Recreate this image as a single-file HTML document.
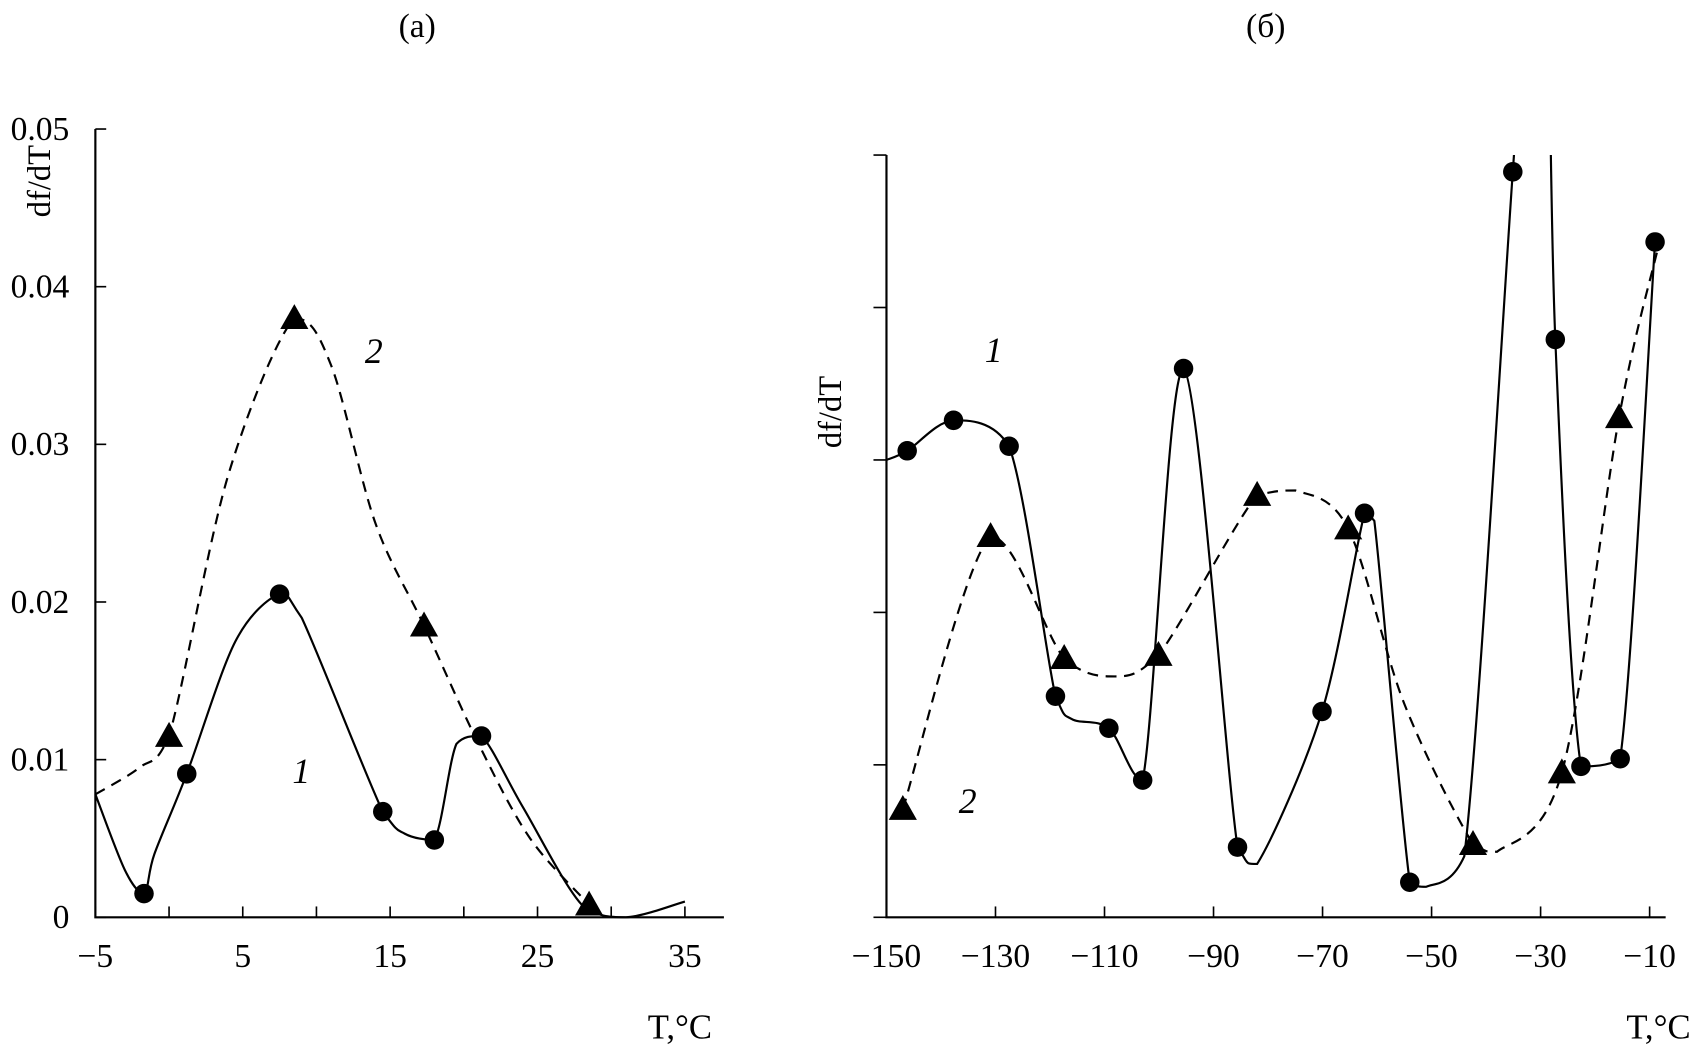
<!DOCTYPE html>
<html><head><meta charset="utf-8"><style>
html,body{margin:0;padding:0;background:#fff;}
svg{display:block;font-family:"Liberation Serif",serif;}
</style></head><body>
<svg id="chart" width="1696" height="1055" viewBox="0 0 1565 973" preserveAspectRatio="none" xmlns="http://www.w3.org/2000/svg">
<defs><clipPath id="clipB"><rect x="815" y="143" width="730" height="710"/></clipPath></defs>
<text x="385" y="34" font-size="31" text-anchor="middle">(a)</text>
<text x="1168" y="34" font-size="31" text-anchor="middle">(б)</text>
<g id="pa"></g>
<g id="pb"></g>
</svg>
<script>
// Panel (a) data
const aTicksX = [-5, 5, 15, 25, 35];
const aTicksY = [0, 0.01, 0.02, 0.03, 0.04, 0.05];
const aCurve1 = [[-5,.0078],[-3,.003],[-1.7,.0015],[-1,.004],[1.2,.0091],[4.5,.0175],[7.5,.0205],[9,.019],[14.5,.0067],[16,.0053],[18,.0049],[19.5,.011],[21.2,.0115],[24,.007],[28,.0008],[31,0],[35,.001]];
const aMarks1 = [[-1.7,.0015],[1.2,.0091],[7.5,.0205],[14.5,.0067],[18,.0049],[21.2,.0115]];
const aCurve2 = [[-5,.0078],[-2,.0095],[0,.0115],[4,.028],[8.5,.038],[11,.035],[14,.025],[17.3,.0185],[21,.011],[24.5,.005],[28.5,.0008]];
const aMarks2 = [[0,.0115],[8.5,.038],[17.3,.0185],[28.5,.0008]];
// Panel (б) data
const bTicksX = [-150,-130,-110,-90,-70,-50,-30,-10];
const bTicksY = [0,1,2,3,4,5];
const bCurve1 = [[-150,3.0],[-146.2,3.06],[-137.7,3.26],[-127.5,3.09],[-119,1.45],[-116,1.3],[-109.2,1.24],[-103,0.9],[-95.5,3.6],[-85.6,0.46],[-82,0.35],[-70.1,1.35],[-62.3,2.65],[-60.5,2.6],[-54,0.23],[-51,0.2],[-44,0.4],[-35.1,4.89],[-32,6.5],[-29,6.5],[-27.3,3.79],[-22.6,0.99],[-15.4,1.04],[-9.0,4.43]];
const bMarks1 = [[-146.2,3.06],[-137.7,3.26],[-127.5,3.09],[-119,1.45],[-109.2,1.24],[-103,0.9],[-95.5,3.6],[-85.6,0.46],[-70.1,1.35],[-62.3,2.65],[-54,0.23],[-35.1,4.89],[-27.3,3.79],[-22.6,0.99],[-15.4,1.04],[-9.0,4.43]];
const bCurve2 = [[-147,0.71],[-130.9,2.5],[-117.4,1.7],[-108,1.58],[-100.1,1.72],[-82,2.77],[-75,2.8],[-65.3,2.55],[-55,1.4],[-42.4,0.48],[-38,0.43],[-26.1,0.95],[-15.6,3.28],[-8.4,4.4]];
const bMarks2 = [[-147,0.71],[-130.9,2.5],[-117.4,1.7],[-100.1,1.72],[-82,2.77],[-65.3,2.55],[-42.4,0.48],[-26.1,0.95],[-15.6,3.28]];

const NS = "http://www.w3.org/2000/svg";
function mk(parent, tag, attrs){const e=document.createElementNS(NS,tag);for(const k in attrs)e.setAttribute(k,attrs[k]);parent.appendChild(e);return e;}
function clampY(y,a,b){const lo=Math.min(a,b),hi=Math.max(a,b);return Math.max(lo,Math.min(hi,y));}
function smooth(pts){
  let d="M"+pts[0][0]+","+pts[0][1];
  for(let i=0;i<pts.length-1;i++){
    const p0=pts[Math.max(0,i-1)],p1=pts[i],p2=pts[i+1],p3=pts[Math.min(pts.length-1,i+2)];
    const t=0.16;
    const c1=[p1[0]+(p2[0]-p0[0])*t,clampY(p1[1]+(p2[1]-p0[1])*t,p1[1],p2[1])];
    const c2=[p2[0]-(p3[0]-p1[0])*t,clampY(p2[1]-(p3[1]-p1[1])*t,p1[1],p2[1])];
    d+=" C"+c1[0]+","+c1[1]+" "+c2[0]+","+c2[1]+" "+p2[0]+","+p2[1];
  }
  return d;
}
function circ(g,x,y){const c=mk(g,"circle",{cx:x,cy:y,r:9,fill:"#000"});

}
function tri(g,x,y){const p=mk(g,"polygon",{points:(x-13)+","+(y+10)+" "+(x+13)+","+(y+10)+" "+x+","+(y-13),fill:"#000"});

}

// Panel a
(function(){
  const g=document.getElementById("pa");
  const X=v=>88+(v+5)*13.6, Y=v=>846-v*14540;
  const ax=mk(g,"path",{d:"M88,119 L88,846 L668,846",fill:"none",stroke:"#000","stroke-width":2});
  
  
  for(let v=-5;v<=35;v+=5){mk(g,"line",{x1:X(v),x2:X(v),y1:846,y2:836,stroke:"#000","stroke-width":1.5});}
  aTicksX.forEach(v=>{const t=mk(g,"text",{x:X(v),y:892,"font-size":31,"text-anchor":"middle"});t.textContent=(v<0?"\u2212"+(-v):v);
    
    });
  aTicksY.forEach(v=>{mk(g,"line",{x1:88,x2:98,y1:Y(v),y2:Y(v),stroke:"#000","stroke-width":1.5});
    const t=mk(g,"text",{x:64,y:Y(v)+10,"font-size":31,"text-anchor":"end"});t.textContent=v===0?"0":v.toFixed(2);
    
    });
  const yl=mk(g,"text",{x:0,y:0,"font-size":30,"text-anchor":"middle",transform:"translate(46,167) rotate(-90)"});yl.textContent="df/dT";
  
  
  const xl=mk(g,"text",{x:657,y:958,"font-size":32,"text-anchor":"end"});xl.textContent="T,\u00B0C";
  
  
  const l2=mk(g,"path",{d:smooth(aCurve2.map(p=>[X(p[0]),Y(p[1])])),fill:"none",stroke:"#000","stroke-width":2,"stroke-dasharray":"10,7"});
  
  
  const l1=mk(g,"path",{d:smooth(aCurve1.map(p=>[X(p[0]),Y(p[1])])),fill:"none",stroke:"#000","stroke-width":2});
  
  
  aMarks1.forEach(p=>circ(g,X(p[0]),Y(p[1])));
  aMarks2.forEach(p=>tri(g,X(p[0]),Y(p[1])));
  const t2=mk(g,"text",{x:345,y:335,"font-size":33,"font-style":"italic","text-anchor":"middle"});t2.textContent="2";
  
  
  const t1=mk(g,"text",{x:278,y:722,"font-size":33,"font-style":"italic","text-anchor":"middle"});t1.textContent="1";
  
  
})();

// Panel b
(function(){
  const g=document.getElementById("pb");
  const X=v=>818+(v+150)*5.03, Y=v=>846-v*140.6;
  const ax=mk(g,"path",{d:"M818,143 L818,846 L1537,846",fill:"none",stroke:"#000","stroke-width":2});
  
  
  bTicksX.forEach(v=>{mk(g,"line",{x1:X(v),x2:X(v),y1:846,y2:836,stroke:"#000","stroke-width":1.5});
    const t=mk(g,"text",{x:X(v),y:892,"font-size":31,"text-anchor":"middle"});t.textContent="\u2212"+(-v);
    
    });
  bTicksY.forEach(v=>{mk(g,"line",{x1:806,x2:818,y1:Y(v),y2:Y(v),stroke:"#000","stroke-width":1.5});});
  const yl=mk(g,"text",{x:0,y:0,"font-size":30,"text-anchor":"middle",transform:"translate(776,380) rotate(-90)"});yl.textContent="df/dT";
  
  
  const xl=mk(g,"text",{x:1560,y:958,"font-size":32,"text-anchor":"end"});xl.textContent="T,\u00B0C";
  
  
  const cg=mk(g,"g",{"clip-path":"url(#clipB)"});
  const l2=mk(cg,"path",{d:smooth(bCurve2.map(p=>[X(p[0]),Y(p[1])])),fill:"none",stroke:"#000","stroke-width":2,"stroke-dasharray":"10,7"});
  
  
  const l1=mk(cg,"path",{d:smooth(bCurve1.map(p=>[X(p[0]),Y(p[1])])),fill:"none",stroke:"#000","stroke-width":2});
  
  
  bMarks1.forEach(p=>circ(g,X(p[0]),Y(p[1])));
  bMarks2.forEach(p=>tri(g,X(p[0]),Y(p[1])));
  const t1=mk(g,"text",{x:917,y:334,"font-size":33,"font-style":"italic","text-anchor":"middle"});t1.textContent="1";
  
  
  const t2=mk(g,"text",{x:893,y:750,"font-size":33,"font-style":"italic","text-anchor":"middle"});t2.textContent="2";
  
  
})();
</script>
</body></html>
